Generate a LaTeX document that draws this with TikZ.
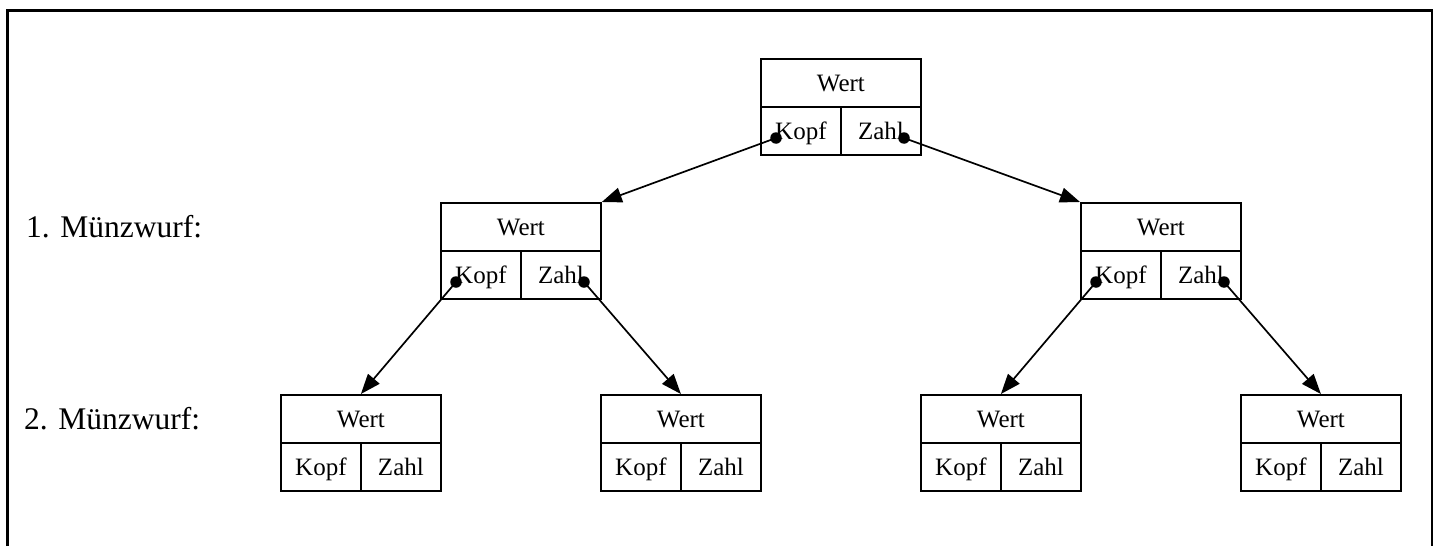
\documentclass[tikz,border=0pt]{standalone}
\usepackage{fontspec}
\setmainfont{Liberation Serif}
\usetikzlibrary{arrows.meta}
\begin{document}
\begin{tikzpicture}[x=1pt,y=-1pt,
  cell/.style={draw, line width=1.8pt, inner sep=0pt, minimum height=48pt,
    text height=18pt, text depth=0pt, font=\fontsize{25}{25}\selectfont, anchor=north west},
  wide/.style={cell, minimum width=160pt},
  half/.style={cell, minimum width=80pt},
  lab/.style={anchor=base west, inner sep=0pt, font=\fontsize{31.5}{32}\selectfont},
  conn/.style={line width=1.7pt, -{Triangle[length=20pt,width=15pt]}},
  dot/.style={circle, fill=black, inner sep=0pt, minimum size=11.5pt}
]
\useasboundingbox (0,0) rectangle (1439,546);
\draw[line width=2.2pt] (7.5,546) -- (7.5,10.5) -- (1432,10.5) -- (1432,546);

% tree boxes: name, x, y
\newcommand{\coinbox}[3]{%
  \node[wide] (#1w) at (#2,#3) {Wert};
  \node[half] (#1k) at (#2,#3+48) {Kopf};
  \node[half] (#1z) at (#2+80,#3+48) {Zahl};
}
\coinbox{r}{760}{58}
\coinbox{a}{440}{202}
\coinbox{b}{1080}{202}
\coinbox{aa}{280}{394}
\coinbox{ab}{600}{394}
\coinbox{ba}{920}{394}
\coinbox{bb}{1240}{394}

\node[lab] (l1) at (26,237) {1. Münzwurf:};
\node[lab] (l2) at (24,429) {2. Münzwurf:};

% dot coordinates
\node[dot] (rk) at (776,138) {};
\node[dot] (rz) at (904,138) {};
\node[dot] (ak) at (456,282) {};
\node[dot] (az) at (584,282) {};
\node[dot] (bk) at (1096,282) {};
\node[dot] (bz) at (1224,282) {};

\draw[conn] (rk.center) -- (aw.north east);
\draw[conn] (rz.center) -- (bw.north west);
\draw[conn] (ak.center) -- (aaw.north);
\draw[conn] (az.center) -- (abw.north);
\draw[conn] (bk.center) -- (baw.north);
\draw[conn] (bz.center) -- (bbw.north);
\end{tikzpicture}
\end{document}
